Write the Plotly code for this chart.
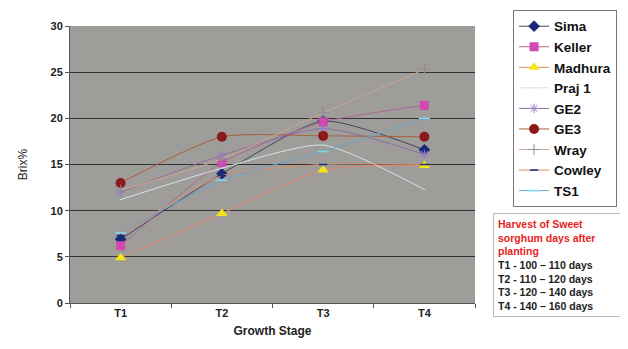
import plotly.graph_objects as go

stages = ["T1", "T2", "T3", "T4"]
sima = [6.9, 14.0, 19.7, 16.6]
keller = [6.2, 15.2, 19.6, 21.4]
madhura = [4.9, 9.7, 14.4, 14.9]
praj1 = [11.2, 14.6, 17.1, 12.3]
ge2 = [12.0, 16.0, 18.9, 16.1]
ge3 = [13.0, 18.0, 18.1, 18.0]
wray = [12.2, 15.6, 20.6, 25.3]
cowley = [7.3, 13.8, 15.0, 15.0]
ts1 = [7.6, 13.3, 16.4, 20.0]

series = [
    ("Sima", sima, "#424660", dict(symbol="diamond", size=9, color="#1b2a78")),
    ("Keller", keller, "#a86a98", dict(symbol="square", size=9, color="#d048b0")),
    ("Madhura", madhura, "#e2866a", dict(symbol="triangle-up", size=10, color="#f4e418")),
    ("Praj 1", praj1, "#d2e2e8", dict(symbol="line-ew-open", size=1, color="#d2e2e8", line=dict(width=0))),
    ("GE2", ge2, "#8a70a0", dict(symbol="asterisk-open", size=8, color="#9b7cc9", line=dict(width=1, color="#9b7cc9"))),
    ("GE3", ge3, "#a8603e", dict(symbol="circle", size=10, color="#8b1a1a")),
    ("Wray", wray, "#cfa490", dict(symbol="cross-thin-open", size=8, color="#8c8c9a", line=dict(width=1, color="#8c8c9a"))),
    ("Cowley", cowley, "#d69070", dict(symbol="line-ew-open", size=6, color="#1b2a78", line=dict(width=1.5, color="#1b2a78"))),
    ("TS1", ts1, "#6aa4c8", dict(symbol="line-ew-open", size=8, color="#7fd8f0", line=dict(width=1.5, color="#7fd8f0"))),
]

fig = go.Figure()
for name, vals, lc, mk in series:
    fig.add_trace(go.Scatter(
        x=stages, y=vals, name=name, mode="lines+markers",
        line=dict(color=lc, width=1, shape="spline", smoothing=0.6),
        marker=mk,
    ))

fig.update_layout(
    width=628, height=349,
    margin=dict(l=62, r=161, t=18, b=54, autoexpand=False),
    paper_bgcolor="white",
    plot_bgcolor="#9f9d99",
    font=dict(family="Liberation Sans, Arial, sans-serif", size=11, color="#222222"),
    showlegend=True,
    legend=dict(
        x=1.094, xanchor="left", y=1.058, yanchor="top",
        bordercolor="#777777", borderwidth=1, bgcolor="white",
        font=dict(size=13.5, color="#111111", family="Liberation Sans, Arial, sans-serif", weight="bold"),
        tracegroupgap=0, itemwidth=30, maxheight=320,
    ),
    xaxis=dict(
        title=dict(text="<b>Growth Stage</b>", font=dict(size=12), standoff=8),
        showgrid=False, showline=True, linecolor="#555555", linewidth=1,
        ticks="outside", ticklen=4, tickcolor="#555555",
        tickson="boundaries", tickfont=dict(size=11, color="#222222"),
        tickprefix="<b>", ticksuffix="</b>",
        range=[-0.5, 3.5], mirror=False,
    ),
    yaxis=dict(
        title=dict(text="Brix%", font=dict(size=12), standoff=20),
        range=[0, 30], dtick=5,
        showgrid=True, gridcolor="#333333", gridwidth=1,
        showline=True, linecolor="#555555", linewidth=1,
        ticks="outside", ticklen=4, tickcolor="#555555",
        tickprefix="<b>", ticksuffix="</b>",
        tickfont=dict(size=11, color="#222222"),
        zeroline=False,
    ),
)

fig.add_annotation(
    xref="paper", yref="paper", x=1.044, y=0.325, xanchor="left", yanchor="top",
    align="left", showarrow=False,
    text=("<b><span style='color:#e8231c'>Harvest of Sweet<br>sorghum days after<br>planting</span></b><br>"
          "<b>T1 - 100 – 110 days<br>T2 - 110 – 120 days<br>T3 - 120 – 140 days<br>T4 - 140 – 160 days</b>"),
    font=dict(size=10.5, color="#222222", family="Liberation Sans, Arial, sans-serif"),
    bordercolor="#bbbbbb", borderwidth=1, borderpad=4, bgcolor="white", width=124,
)

fig.write_html("out.html")
